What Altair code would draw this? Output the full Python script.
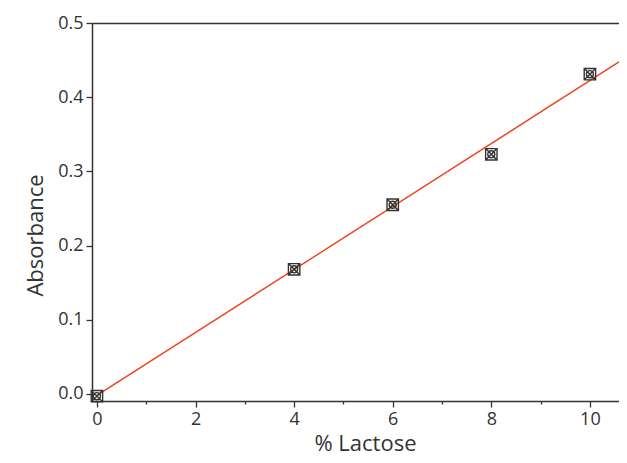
import altair as alt
import pandas as pd

# measured points
lactose = [0, 4, 6, 8, 10]
absorbance = [-0.003, 0.168, 0.255, 0.323, 0.431]

# linear fit line endpoints
fit_x = [0, 10.59]
fit_y = [-0.002, 0.4475]

x_ticks = list(range(0, 11))
y_ticks = [round(i * 0.05, 2) for i in range(0, 11)]

pts = pd.DataFrame({"x": lactose, "y": absorbance})
fit = pd.DataFrame({"x": fit_x, "y": fit_y})

FONT = "Open Sans"
INK = "#333333"

xscale = alt.Scale(domain=[-0.1, 10.59], nice=False, zero=False)
yscale = alt.Scale(domain=[-0.0095, 0.5], nice=False, zero=False)

xaxis = alt.Axis(
    title="% Lactose",
    values=x_ticks,
    labelExpr="datum.value % 2 === 0 ? datum.label : ''",
    tickSize={"condition": {"test": "datum.value % 2 === 0", "value": 6}, "value": 3},
    grid=False,
    titleX=273,
    titleY=49,
    titleBaseline="alphabetic",
    titleAlign="center",
)
yaxis = alt.Axis(
    title="Absorbance",
    values=y_ticks,
    format=".1f",
    labelExpr="round(datum.value * 20) % 2 === 0 ? datum.label : ''",
    tickSize={"condition": {"test": "round(datum.value * 20) % 2 === 0", "value": 6}, "value": 3},
    grid=False,
    titleX=-50,
    titleY=212,
    titleBaseline="alphabetic",
    titleAlign="center",
    titleAngle=270,
)
top_axis = alt.Axis(orient="top", title=None, labels=False, ticks=False, grid=False, domain=True)

line = alt.Chart(fit).mark_line(color="#f0401e", strokeWidth=1.4, clip=True).encode(
    x=alt.X("x:Q", scale=xscale, axis=xaxis),
    y=alt.Y("y:Q", scale=yscale, axis=yaxis),
)

marker_path = (
    "M-1,-1H1V1H-1Z"
    "M-1,-1L1,1M-1,1L1,-1"
    "M0.62,0A0.62,0.62 0 1,1 -0.62,0A0.62,0.62 0 1,1 0.62,0"
)
points = alt.Chart(pts).mark_point(
    shape=marker_path, size=130, filled=False, color=INK, strokeWidth=1.4, opacity=1
).encode(
    x=alt.X("x:Q", scale=xscale, axis=top_axis),
    y=alt.Y("y:Q", scale=yscale),
)

chart = (
    alt.layer(line, points)
    .resolve_axis(x="independent")
    .properties(
        width=527,
        height=378,
        autosize=alt.AutoSizeParams(type="none"),
        padding={"left": 84, "top": 15, "right": 0, "bottom": 54},
    )
    .configure_view(stroke=None)
    .configure_axis(
        domainColor=INK,
        domainWidth=1.5,
        tickColor=INK,
        tickWidth=1.3,
        labelFont=FONT,
        titleFont=FONT,
        labelFontSize=18,
        titleFontSize=22,
        labelColor=INK,
        titleColor=INK,
        titleFontWeight="normal",
        labelPadding=3,
    )
)

chart.save("out.html", embed_options={"renderer": "svg", "actions": False})
